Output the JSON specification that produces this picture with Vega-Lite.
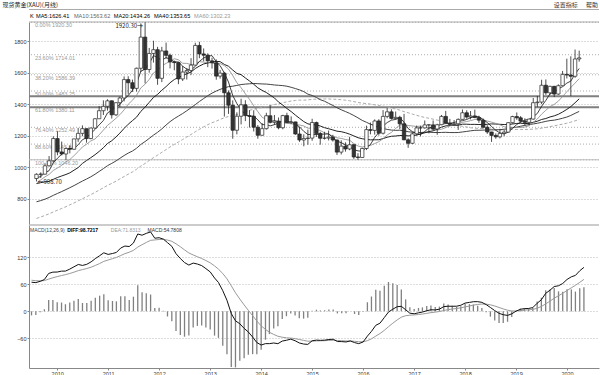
{
"$schema":"https://vega.github.io/schema/vega-lite/v6.json",
"background":"white",
"padding":{"top":0,"left":2,"right":2,"bottom":0},
"config":{"view":{"stroke":null},"axis":{"title":null,"labelFont":"Liberation Sans","labelColor":"#333","labelFontSize":5.5},"text":{"font":"Liberation Sans"}},
"spacing":0,
"datasets":{
"k":[
{"d":"2009-07-01","o":927,"h":960,"l":908.7,"c":954,"m5":931.8,"m10":894.7,"m20":895,"m40":779.1,"m60":673.4,"dif":64.7,"dea":69.2,"macd":-9},
{"d":"2009-08-01","o":954,"h":966,"l":931,"c":955,"m5":939.6,"m10":918.4,"m20":901,"m40":786.7,"m60":682.5,"dif":63.9,"dea":68.1,"macd":-8.4},
{"d":"2009-09-01","o":955,"h":1024,"l":952,"c":1008,"m5":964.6,"m10":937.6,"m20":905.3,"m40":795.8,"m60":692.4,"dif":66.7,"dea":67.8,"macd":-2.2},
{"d":"2009-10-01","o":1008,"h":1070,"l":1003,"c":1040,"m5":976.8,"m10":953.2,"m20":908.7,"m40":806.5,"m60":702.6,"dif":70.7,"dea":68.4,"macd":4.6},
{"d":"2009-11-01","o":1040,"h":1195,"l":1033,"c":1181,"m5":1027.6,"m10":978.5,"m20":921.9,"m40":820.2,"m60":714.8,"dif":84.3,"dea":71.6,"macd":25.4},
{"d":"2009-12-01","o":1181,"h":1227,"l":1075,"c":1096,"m5":1056,"m10":993.9,"m20":933.5,"m40":832,"m60":725.7,"dif":87.2,"dea":74.7,"macd":25},
{"d":"2010-01-01","o":1096,"h":1162,"l":1074,"c":1083,"m5":1081.6,"m10":1010.6,"m20":943.4,"m40":844.1,"m60":736.7,"dif":87.4,"dea":77.2,"macd":20.4},
{"d":"2010-02-01","o":1083,"h":1125,"l":1044,"c":1118,"m5":1103.6,"m10":1034.1,"m20":952.9,"m40":856.9,"m60":748.1,"dif":89.4,"dea":79.6,"macd":19.6},
{"d":"2010-03-01","o":1118,"h":1136,"l":1087,"c":1113,"m5":1118.2,"m10":1047.5,"m20":962.9,"m40":868.6,"m60":759.5,"dif":89.5,"dea":81.6,"macd":15.8},
{"d":"2010-04-01","o":1113,"h":1179,"l":1110,"c":1179,"m5":1117.8,"m10":1072.7,"m20":980.2,"m40":882.3,"m60":771.9,"dif":93.9,"dea":84.1,"macd":19.6},
{"d":"2010-05-01","o":1179,"h":1249,"l":1160,"c":1214,"m5":1141.4,"m10":1098.7,"m20":996.7,"m40":896.4,"m60":785.2,"dif":99,"dea":87.1,"macd":23.8},
{"d":"2010-06-01","o":1214,"h":1265,"l":1196,"c":1244,"m5":1173.6,"m10":1127.6,"m20":1023,"m40":910.9,"m60":798.7,"dif":104.2,"dea":90.5,"macd":27.4},
{"d":"2010-07-01","o":1244,"h":1245,"l":1155,"c":1181,"m5":1186.2,"m10":1144.9,"m20":1041.3,"m40":923.8,"m60":811.2,"dif":102.1,"dea":92.8,"macd":18.6},
{"d":"2010-08-01","o":1181,"h":1250,"l":1177,"c":1248,"m5":1213.2,"m10":1165.7,"m20":1059.5,"m40":938,"m60":824.8,"dif":104.6,"dea":95.2,"macd":18.8},
{"d":"2010-09-01","o":1248,"h":1310,"l":1242,"c":1307,"m5":1238.8,"m10":1178.3,"m20":1078.4,"m40":954.3,"m60":838.7,"dif":110.1,"dea":98.2,"macd":23.8},
{"d":"2010-10-01","o":1307,"h":1387,"l":1306,"c":1358,"m5":1267.6,"m10":1204.5,"m20":1099.2,"m40":972,"m60":853.5,"dif":117.2,"dea":102,"macd":30.4},
{"d":"2010-11-01","o":1358,"h":1424,"l":1331,"c":1386,"m5":1296,"m10":1234.8,"m20":1122.7,"m40":990,"m60":868.3,"dif":123.7,"dea":106.3,"macd":34.8},
{"d":"2010-12-01","o":1386,"h":1431,"l":1359,"c":1421,"m5":1344,"m10":1265.1,"m20":1149.6,"m40":1008.7,"m60":883.4,"dif":130.2,"dea":111.1,"macd":38.2},
{"d":"2011-01-01","o":1421,"h":1424,"l":1308,"c":1332,"m5":1360.8,"m10":1287,"m20":1167.3,"m40":1023.4,"m60":896.1,"dif":126.6,"dea":114.2,"macd":24.8},
{"d":"2011-02-01","o":1332,"h":1411,"l":1324,"c":1409,"m5":1381.2,"m10":1310,"m20":1191.4,"m40":1038.9,"m60":910.3,"dif":128.6,"dea":117.1,"macd":23},
{"d":"2011-03-01","o":1409,"h":1447,"l":1381,"c":1439,"m5":1397.4,"m10":1332.5,"m20":1215.6,"m40":1055.3,"m60":924.6,"dif":131,"dea":119.9,"macd":22.2},
{"d":"2011-04-01","o":1439,"h":1576,"l":1417,"c":1556,"m5":1431.4,"m10":1363.7,"m20":1245.7,"m40":1073.3,"m60":939.7,"dif":140.8,"dea":124.1,"macd":33.4},
{"d":"2011-05-01","o":1556,"h":1577,"l":1462,"c":1536,"m5":1454.4,"m10":1399.2,"m20":1272.1,"m40":1088.7,"m60":954.5,"dif":145.2,"dea":128.3,"macd":33.8},
{"d":"2011-06-01","o":1536,"h":1556,"l":1478,"c":1500,"m5":1488,"m10":1424.4,"m20":1295.1,"m40":1101.9,"m60":969.3,"dif":144.1,"dea":131.5,"macd":25.2},
{"d":"2011-07-01","o":1500,"h":1632,"l":1480,"c":1628,"m5":1531.8,"m10":1456.5,"m20":1317.4,"m40":1119.7,"m60":985.9,"dif":151.9,"dea":135.6,"macd":32.6},
{"d":"2011-08-01","o":1628,"h":1913,"l":1604,"c":1826,"m5":1609.2,"m10":1503.3,"m20":1353.9,"m40":1143.7,"m60":1006,"dif":172,"dea":142.9,"macd":58.2},
{"d":"2011-09-01","o":1826,"h":1920.3,"l":1532,"c":1620,"m5":1622,"m10":1526.7,"m20":1380.8,"m40":1162.1,"m60":1023,"dif":169.3,"dea":148.2,"macd":42.2},
{"d":"2011-10-01","o":1620,"h":1757,"l":1600,"c":1722,"m5":1659.2,"m10":1556.8,"m20":1411,"m40":1181.9,"m60":1041.6,"dif":173.4,"dea":153.2,"macd":40.4},
{"d":"2011-11-01","o":1722,"h":1803,"l":1664,"c":1746,"m5":1708.4,"m10":1598.2,"m20":1442.6,"m40":1202.8,"m60":1059.9,"dif":176.6,"dea":157.9,"macd":37.4},
{"d":"2011-12-01","o":1746,"h":1764,"l":1523,"c":1564,"m5":1695.6,"m10":1613.7,"m20":1461.9,"m40":1221,"m60":1075.5,"dif":162.6,"dea":158.8,"macd":7.6},
{"d":"2012-01-01","o":1564,"h":1764,"l":1540,"c":1738,"m5":1678,"m10":1643.6,"m20":1488.1,"m40":1242.4,"m60":1093.6,"dif":163.7,"dea":159.8,"macd":7.8},
{"d":"2012-02-01","o":1738,"h":1791,"l":1688,"c":1710,"m5":1696,"m10":1659,"m20":1511.4,"m40":1267.2,"m60":1111,"dif":160.5,"dea":159.9,"macd":1.2},
{"d":"2012-03-01","o":1710,"h":1721,"l":1627,"c":1668,"m5":1685.2,"m10":1672.2,"m20":1535.7,"m40":1288.5,"m60":1127.8,"dif":152.8,"dea":158.5,"macd":-11.4},
{"d":"2012-04-01","o":1668,"h":1677,"l":1615,"c":1664,"m5":1668.8,"m10":1688.6,"m20":1556.5,"m40":1308,"m60":1144.2,"dif":144.6,"dea":155.7,"macd":-22.2},
{"d":"2012-05-01","o":1664,"h":1665,"l":1527,"c":1560,"m5":1668,"m10":1681.8,"m20":1569.2,"m40":1323.8,"m60":1159.2,"dif":128.3,"dea":150.2,"macd":-43.8},
{"d":"2012-06-01","o":1560,"h":1642,"l":1547,"c":1604,"m5":1641.2,"m10":1659.6,"m20":1581.5,"m40":1340.3,"m60":1175.1,"dif":117.5,"dea":143.7,"macd":-52.4},
{"d":"2012-07-01","o":1604,"h":1630,"l":1556,"c":1614,"m5":1622,"m10":1659,"m20":1592.9,"m40":1357.8,"m60":1190.9,"dif":108.5,"dea":136.7,"macd":-56.4},
{"d":"2012-08-01","o":1614,"h":1692,"l":1586,"c":1648,"m5":1618,"m10":1651.6,"m20":1604.2,"m40":1376.9,"m60":1207.2,"dif":102.9,"dea":129.9,"macd":-54},
{"d":"2012-09-01","o":1648,"h":1790,"l":1645,"c":1773,"m5":1639.8,"m10":1654.3,"m20":1626.3,"m40":1396.8,"m60":1224.3,"dif":107.3,"dea":125.4,"macd":-36.2},
{"d":"2012-10-01","o":1773,"h":1796,"l":1692,"c":1719,"m5":1671.6,"m10":1669.8,"m20":1641.8,"m40":1416.6,"m60":1239.8,"dif":105.2,"dea":121.4,"macd":-32.4},
{"d":"2012-11-01","o":1719,"h":1754,"l":1672,"c":1711,"m5":1693,"m10":1667.1,"m20":1655.4,"m40":1435.5,"m60":1255.3,"dif":101.7,"dea":117.5,"macd":-31.6},
{"d":"2012-12-01","o":1711,"h":1723,"l":1635,"c":1675,"m5":1705.2,"m10":1663.6,"m20":1661.3,"m40":1453.5,"m60":1269.3,"dif":95,"dea":113,"macd":-36},
{"d":"2013-01-01","o":1675,"h":1695,"l":1626,"c":1663,"m5":1708.2,"m10":1663.1,"m20":1667.7,"m40":1469.9,"m60":1281.7,"dif":87.7,"dea":107.9,"macd":-40.4},
{"d":"2013-02-01","o":1663,"h":1684,"l":1555,"c":1578,"m5":1669.2,"m10":1654.5,"m20":1671.6,"m40":1483.3,"m60":1291.8,"dif":74.2,"dea":101.2,"macd":-54},
{"d":"2013-03-01","o":1578,"h":1617,"l":1562,"c":1597,"m5":1644.8,"m10":1658.2,"m20":1670,"m40":1493.7,"m60":1303.1,"dif":64.3,"dea":93.8,"macd":-59},
{"d":"2013-04-01","o":1597,"h":1605,"l":1321,"c":1472,"m5":1597,"m10":1645,"m20":1652.3,"m40":1503.1,"m60":1313.2,"dif":45.9,"dea":84.2,"macd":-76.6},
{"d":"2013-05-01","o":1472,"h":1487,"l":1338,"c":1393,"m5":1540.6,"m10":1622.9,"m20":1641,"m40":1510.9,"m60":1321.7,"dif":24.6,"dea":72.3,"macd":-95.4},
{"d":"2013-06-01","o":1393,"h":1424,"l":1180,"c":1234,"m5":1454.8,"m10":1581.5,"m20":1616.6,"m40":1513.8,"m60":1326.8,"dif":-5,"dea":56.8,"macd":-123.6},
{"d":"2013-07-01","o":1234,"h":1348,"l":1208,"c":1323,"m5":1403.8,"m10":1536.5,"m20":1595.4,"m40":1519,"m60":1333.6,"dif":-21.1,"dea":41.2,"macd":-124.6},
{"d":"2013-08-01","o":1323,"h":1434,"l":1271,"c":1396,"m5":1363.6,"m10":1504.2,"m20":1587,"m40":1524.4,"m60":1343,"dif":-27.6,"dea":27.4,"macd":-110},
{"d":"2013-09-01","o":1396,"h":1425,"l":1292,"c":1327,"m5":1334.6,"m10":1465.8,"m20":1566.5,"m40":1527.3,"m60":1350.4,"dif":-37.9,"dea":14.3,"macd":-104.4},
{"d":"2013-10-01","o":1327,"h":1362,"l":1251,"c":1323,"m5":1320.6,"m10":1430.6,"m20":1547.1,"m40":1529.2,"m60":1360.5,"dif":-45.9,"dea":2.3,"macd":-96.4},
{"d":"2013-11-01","o":1323,"h":1361,"l":1226,"c":1253,"m5":1324.4,"m10":1389.6,"m20":1526.4,"m40":1531,"m60":1367.8,"dif":-57.2,"dea":-9.6,"macd":-95.2},
{"d":"2013-12-01","o":1253,"h":1267,"l":1180,"c":1202,"m5":1300.2,"m10":1352,"m20":1503.3,"m40":1529.9,"m60":1373.1,"dif":-69.4,"dea":-21.6,"macd":-95.6},
{"d":"2014-01-01","o":1202,"h":1280,"l":1200,"c":1244,"m5":1269.8,"m10":1316.7,"m20":1487.5,"m40":1528.3,"m60":1378.3,"dif":-74.9,"dea":-32.3,"macd":-85.2},
{"d":"2014-02-01","o":1244,"h":1345,"l":1238,"c":1326,"m5":1269.6,"m10":1302.1,"m20":1473.6,"m40":1527.5,"m60":1384.7,"dif":-71.8,"dea":-40.2,"macd":-63.2},
{"d":"2014-03-01","o":1326,"h":1392,"l":1277,"c":1284,"m5":1261.8,"m10":1291.2,"m20":1457.1,"m40":1525,"m60":1390.9,"dif":-71.8,"dea":-46.5,"macd":-50.6},
{"d":"2014-04-01","o":1284,"h":1331,"l":1268,"c":1292,"m5":1269.6,"m10":1297,"m20":1439.3,"m40":1521.7,"m60":1397.7,"dif":-70.4,"dea":-51.3,"macd":-38.2},
{"d":"2014-05-01","o":1292,"h":1315,"l":1240,"c":1250,"m5":1279.2,"m10":1289.7,"m20":1413.1,"m40":1519.7,"m60":1402.2,"dif":-71.9,"dea":-55.4,"macd":-33},
{"d":"2014-06-01","o":1250,"h":1332,"l":1240,"c":1327,"m5":1295.8,"m10":1282.8,"m20":1393.5,"m40":1517.6,"m60":1408.9,"dif":-66.1,"dea":-57.5,"macd":-17.2},
{"d":"2014-07-01","o":1327,"h":1345,"l":1280,"c":1282,"m5":1287,"m10":1278.3,"m20":1372.1,"m40":1513.7,"m60":1414.3,"dif":-64.3,"dea":-58.9,"macd":-10.8},
{"d":"2014-08-01","o":1282,"h":1322,"l":1274,"c":1287,"m5":1287.6,"m10":1274.7,"m20":1352.7,"m40":1507,"m60":1419.9,"dif":-61.8,"dea":-59.5,"macd":-4.6},
{"d":"2014-09-01","o":1287,"h":1288,"l":1205,"c":1210,"m5":1271.2,"m10":1270.4,"m20":1330,"m40":1498.8,"m60":1423.2,"dif":-65.3,"dea":-60.7,"macd":-9.2},
{"d":"2014-10-01","o":1210,"h":1255,"l":1160,"c":1172,"m5":1255.6,"m10":1267.4,"m20":1309.7,"m40":1490.6,"m60":1425.4,"dif":-70.3,"dea":-62.6,"macd":-15.4},
{"d":"2014-11-01","o":1172,"h":1208,"l":1132,"c":1182,"m5":1226.6,"m10":1261.2,"m20":1289,"m40":1479.5,"m60":1425.5,"dif":-72.7,"dea":-64.6,"macd":-16.2},
{"d":"2014-12-01","o":1182,"h":1238,"l":1142,"c":1184,"m5":1207,"m10":1247,"m20":1274.6,"m40":1463.4,"m60":1426.9,"dif":-73.5,"dea":-66.4,"macd":-14.2},
{"d":"2015-01-01","o":1184,"h":1307,"l":1167,"c":1283,"m5":1206.2,"m10":1246.9,"m20":1269.1,"m40":1455,"m60":1430.3,"dif":-65.5,"dea":-66.2,"macd":1.4},
{"d":"2015-02-01","o":1283,"h":1289,"l":1191,"c":1213,"m5":1206.8,"m10":1239,"m20":1268,"m40":1442.3,"m60":1431.8,"dif":-64,"dea":-65.8,"macd":3.6},
{"d":"2015-03-01","o":1213,"h":1224,"l":1142,"c":1183,"m5":1209,"m10":1232.3,"m20":1261,"m40":1428.2,"m60":1433,"dif":-64.5,"dea":-65.5,"macd":2},
{"d":"2015-04-01","o":1183,"h":1224,"l":1175,"c":1184,"m5":1209.4,"m10":1218,"m20":1250.4,"m40":1418.7,"m60":1433.1,"dif":-64.1,"dea":-65.2,"macd":2.2},
{"d":"2015-05-01","o":1184,"h":1232,"l":1169,"c":1190,"m5":1210.6,"m10":1208.8,"m20":1243.6,"m40":1405,"m60":1432.7,"dif":-62.6,"dea":-64.7,"macd":4.2},
{"d":"2015-06-01","o":1190,"h":1205,"l":1162,"c":1172,"m5":1188.4,"m10":1197.3,"m20":1236,"m40":1391.6,"m60":1431.5,"dif":-62.1,"dea":-64.2,"macd":4.2},
{"d":"2015-07-01","o":1172,"h":1176,"l":1077,"c":1095,"m5":1164.8,"m10":1185.8,"m20":1228.1,"m40":1377.2,"m60":1430.1,"dif":-67.1,"dea":-64.8,"macd":-4.6},
{"d":"2015-08-01","o":1095,"h":1170,"l":1080,"c":1133,"m5":1154.8,"m10":1181.9,"m20":1224.7,"m40":1364,"m60":1428.1,"dif":-67.3,"dea":-65.3,"macd":-4},
{"d":"2015-09-01","o":1133,"h":1157,"l":1098,"c":1115,"m5":1141,"m10":1175.2,"m20":1218.2,"m40":1352.8,"m60":1424.9,"dif":-68.1,"dea":-65.9,"macd":-4.4},
{"d":"2015-10-01","o":1115,"h":1192,"l":1107,"c":1142,"m5":1131.4,"m10":1171,"m20":1209,"m40":1341.3,"m60":1421.3,"dif":-65.8,"dea":-65.9,"macd":0.2},
{"d":"2015-11-01","o":1142,"h":1146,"l":1052,"c":1064,"m5":1109.8,"m10":1149.1,"m20":1198,"m40":1327.5,"m60":1416,"dif":-69.5,"dea":-66.6,"macd":-5.8},
{"d":"2015-12-01","o":1064,"h":1088,"l":1046.2,"c":1061,"m5":1103,"m10":1133.9,"m20":1186.5,"m40":1312.9,"m60":1410,"dif":-71.8,"dea":-67.6,"macd":-8.4},
{"d":"2016-01-01","o":1061,"h":1123,"l":1060,"c":1118,"m5":1100,"m10":1127.4,"m20":1179.9,"m40":1296.5,"m60":1406.4,"dif":-68.2,"dea":-67.7,"macd":-1},
{"d":"2016-02-01","o":1118,"h":1263,"l":1108,"c":1238,"m5":1124.6,"m10":1132.8,"m20":1175.4,"m40":1284.5,"m60":1403.6,"dif":-55.1,"dea":-65.2,"macd":20.2},
{"d":"2016-03-01","o":1238,"h":1283,"l":1208,"c":1233,"m5":1142.8,"m10":1137.1,"m20":1173,"m40":1272.5,"m60":1400.1,"dif":-44.6,"dea":-61.1,"macd":33},
{"d":"2016-04-01","o":1233,"h":1303,"l":1206,"c":1293,"m5":1188.6,"m10":1149.2,"m20":1173.3,"m40":1263,"m60":1395.7,"dif":-31.1,"dea":-55.1,"macd":48},
{"d":"2016-05-01","o":1293,"h":1304,"l":1200,"c":1215,"m5":1219.4,"m10":1161.2,"m20":1173.5,"m40":1251.8,"m60":1390.4,"dif":-26.4,"dea":-49.4,"macd":46},
{"d":"2016-06-01","o":1215,"h":1362,"l":1207,"c":1322,"m5":1260.2,"m10":1180.1,"m20":1181,"m40":1245.4,"m60":1387.4,"dif":-13.9,"dea":-42.3,"macd":56.8},
{"d":"2016-07-01","o":1322,"h":1375,"l":1310,"c":1351,"m5":1282.8,"m10":1203.7,"m20":1189.5,"m40":1239.2,"m60":1382.8,"dif":-1.6,"dea":-34.2,"macd":65.2},
{"d":"2016-08-01","o":1351,"h":1367,"l":1302,"c":1309,"m5":1298,"m10":1220.4,"m20":1195.7,"m40":1235.1,"m60":1374.2,"dif":4.8,"dea":-26.4,"macd":62.4},
{"d":"2016-09-01","o":1309,"h":1353,"l":1302,"c":1316,"m5":1302.6,"m10":1245.6,"m20":1197.4,"m40":1233.2,"m60":1369.1,"dif":10.3,"dea":-19.1,"macd":58.8},
{"d":"2016-10-01","o":1316,"h":1326,"l":1241,"c":1275,"m5":1314.6,"m10":1267,"m20":1200.5,"m40":1234.2,"m60":1361.7,"dif":11.2,"dea":-13,"macd":48.4},
{"d":"2016-11-01","o":1275,"h":1338,"l":1171,"c":1173,"m5":1284.8,"m10":1272.5,"m20":1200,"m40":1230.5,"m60":1352.1,"dif":3.6,"dea":-9.7,"macd":26.6},
{"d":"2016-12-01","o":1173,"h":1183,"l":1122,"c":1151,"m5":1244.8,"m10":1263.8,"m20":1198.3,"m40":1224.4,"m60":1345.2,"dif":-4.1,"dea":-8.6,"macd":9},
{"d":"2017-01-01","o":1151,"h":1220,"l":1146,"c":1211,"m5":1225.2,"m10":1261.6,"m20":1199.4,"m40":1221.5,"m60":1336.5,"dif":-5.4,"dea":-8,"macd":5.2},
{"d":"2017-02-01","o":1211,"h":1264,"l":1200,"c":1249,"m5":1211.8,"m10":1257.2,"m20":1203.2,"m40":1219.6,"m60":1328.8,"dif":-3.3,"dea":-7.1,"macd":7.6},
{"d":"2017-03-01","o":1249,"h":1262,"l":1195,"c":1249,"m5":1206.6,"m10":1260.6,"m20":1210.9,"m40":1219.5,"m60":1321.8,"dif":-1.6,"dea":-6,"macd":8.8},
{"d":"2017-04-01","o":1249,"h":1296,"l":1244,"c":1268,"m5":1225.6,"m10":1255.2,"m20":1217.7,"m40":1221.2,"m60":1315.2,"dif":1.3,"dea":-4.5,"macd":11.6},
{"d":"2017-05-01","o":1268,"h":1270,"l":1214,"c":1268,"m5":1249,"m10":1246.9,"m20":1225.3,"m40":1221.8,"m60":1310.3,"dif":3.5,"dea":-2.9,"macd":12.8},
{"d":"2017-06-01","o":1268,"h":1296,"l":1236,"c":1242,"m5":1255.2,"m10":1240.2,"m20":1230.3,"m40":1219.7,"m60":1304.3,"dif":3.1,"dea":-1.7,"macd":9.6},
{"d":"2017-07-01","o":1242,"h":1275,"l":1205,"c":1269,"m5":1259.2,"m10":1235.5,"m20":1240.6,"m40":1219.3,"m60":1298.5,"dif":4.9,"dea":-0.4,"macd":10.6},
{"d":"2017-08-01","o":1269,"h":1331,"l":1266,"c":1322,"m5":1273.8,"m10":1240.2,"m20":1253.6,"m40":1220,"m60":1293.1,"dif":10.5,"dea":1.8,"macd":17.4},
{"d":"2017-09-01","o":1322,"h":1357,"l":1278,"c":1280,"m5":1276.2,"m10":1250.9,"m20":1261.7,"m40":1220.8,"m60":1284.9,"dif":11.4,"dea":3.7,"macd":15.4},
{"d":"2017-10-01","o":1280,"h":1306,"l":1260,"c":1271,"m5":1276.8,"m10":1262.9,"m20":1263.4,"m40":1219.4,"m60":1277.4,"dif":11.3,"dea":5.2,"macd":12.2},
{"d":"2017-11-01","o":1271,"h":1299,"l":1264,"c":1275,"m5":1283.4,"m10":1269.3,"m20":1265.5,"m40":1219.2,"m60":1270.2,"dif":11.4,"dea":6.4,"macd":10},
{"d":"2017-12-01","o":1275,"h":1309,"l":1236,"c":1303,"m5":1290.2,"m10":1274.7,"m20":1266,"m40":1219.6,"m60":1264,"dif":13.5,"dea":7.8,"macd":11.4},
{"d":"2018-01-01","o":1303,"h":1366,"l":1302,"c":1345,"m5":1294.8,"m10":1284.3,"m20":1272.5,"m40":1223,"m60":1258.7,"dif":18.4,"dea":9.9,"macd":17},
{"d":"2018-02-01","o":1345,"h":1361,"l":1307,"c":1318,"m5":1302.4,"m10":1289.3,"m20":1272.3,"m40":1226.6,"m60":1254.3,"dif":19.9,"dea":11.9,"macd":16},
{"d":"2018-03-01","o":1318,"h":1356,"l":1303,"c":1325,"m5":1313.2,"m10":1295,"m20":1271,"m40":1230.2,"m60":1249.8,"dif":21.4,"dea":13.8,"macd":15.2},
{"d":"2018-04-01","o":1325,"h":1365,"l":1310,"c":1315,"m5":1321.2,"m10":1302.3,"m20":1271.3,"m40":1233.5,"m60":1247.2,"dif":21.5,"dea":15.3,"macd":12.4},
{"d":"2018-05-01","o":1315,"h":1326,"l":1281,"c":1298,"m5":1320.2,"m10":1305.2,"m20":1270.4,"m40":1233.9,"m60":1245.6,"dif":20,"dea":16.2,"macd":7.6},
{"d":"2018-06-01","o":1298,"h":1309,"l":1245,"c":1253,"m5":1301.8,"m10":1298.3,"m20":1269.3,"m40":1234.9,"m60":1245.9,"dif":15,"dea":16,"macd":-2},
{"d":"2018-07-01","o":1253,"h":1266,"l":1211,"c":1223,"m5":1282.8,"m10":1292.6,"m20":1271.8,"m40":1235.9,"m60":1244.2,"dif":8.6,"dea":14.5,"macd":-11.8},
{"d":"2018-08-01","o":1223,"h":1224,"l":1160,"c":1201,"m5":1258,"m10":1285.6,"m20":1274.3,"m40":1236.3,"m60":1241,"dif":1.7,"dea":11.9,"macd":-20.4},
{"d":"2018-09-01","o":1201,"h":1214,"l":1180,"c":1192,"m5":1233.4,"m10":1277.3,"m20":1273.3,"m40":1236.3,"m60":1238.7,"dif":-4.4,"dea":8.6,"macd":-26},
{"d":"2018-10-01","o":1192,"h":1243,"l":1182,"c":1214,"m5":1216.6,"m10":1268.4,"m20":1271.6,"m40":1237.4,"m60":1236.9,"dif":-7.5,"dea":5.4,"macd":-25.8},
{"d":"2018-11-01","o":1214,"h":1237,"l":1196,"c":1222,"m5":1210.4,"m10":1256.1,"m20":1270.2,"m40":1240.6,"m60":1236.4,"dif":-9.1,"dea":2.5,"macd":-23.2},
{"d":"2018-12-01","o":1222,"h":1284,"l":1221,"c":1282,"m5":1222.2,"m10":1252.5,"m20":1270.9,"m40":1244.3,"m60":1237.7,"dif":-5.5,"dea":0.9,"macd":-12.8},
{"d":"2019-01-01","o":1282,"h":1326,"l":1276,"c":1321,"m5":1246.2,"m10":1252.1,"m20":1273.6,"m40":1249.4,"m60":1239,"dif":0.5,"dea":0.8,"macd":-0.6},
{"d":"2019-02-01","o":1321,"h":1347,"l":1300,"c":1313,"m5":1270.4,"m10":1251.9,"m20":1277.1,"m40":1253.7,"m60":1238.8,"dif":4.6,"dea":1.6,"macd":6},
{"d":"2019-03-01","o":1313,"h":1324,"l":1281,"c":1292,"m5":1286,"m10":1251.3,"m20":1278.3,"m40":1259.4,"m60":1238.9,"dif":6,"dea":2.5,"macd":7},
{"d":"2019-04-01","o":1292,"h":1310,"l":1266,"c":1284,"m5":1298.4,"m10":1254.4,"m20":1276.4,"m40":1265,"m60":1238.8,"dif":6.4,"dea":3.3,"macd":6.2},
{"d":"2019-05-01","o":1284,"h":1306,"l":1266,"c":1305,"m5":1303,"m10":1262.6,"m20":1277.6,"m40":1269.7,"m60":1239.7,"dif":8.3,"dea":4.3,"macd":8},
{"d":"2019-06-01","o":1305,"h":1439,"l":1301,"c":1409,"m5":1320.6,"m10":1283.4,"m20":1284.5,"m40":1273.9,"m60":1241.1,"dif":18,"dea":7,"macd":22},
{"d":"2019-07-01","o":1409,"h":1452,"l":1382,"c":1413,"m5":1340.6,"m10":1305.5,"m20":1291.4,"m40":1278.4,"m60":1243.3,"dif":25.7,"dea":10.7,"macd":30},
{"d":"2019-08-01","o":1413,"h":1555,"l":1400,"c":1520,"m5":1386.2,"m10":1336.1,"m20":1302.3,"m40":1284.1,"m60":1247.2,"dif":40,"dea":16.6,"macd":46.8},
{"d":"2019-09-01","o":1520,"h":1557,"l":1459,"c":1472,"m5":1423.8,"m10":1361.1,"m20":1308.6,"m40":1290.5,"m60":1251.5,"dif":47,"dea":22.7,"macd":48.6},
{"d":"2019-10-01","o":1472,"h":1517,"l":1459,"c":1513,"m5":1465.4,"m10":1384.2,"m20":1318.4,"m40":1295.3,"m60":1257.2,"dif":55.1,"dea":29.2,"macd":51.8},
{"d":"2019-11-01","o":1513,"h":1516,"l":1445,"c":1464,"m5":1476.4,"m10":1398.5,"m20":1325.3,"m40":1298.1,"m60":1261.9,"dif":56.9,"dea":34.7,"macd":44.4},
{"d":"2019-12-01","o":1464,"h":1526,"l":1459,"c":1517,"m5":1497.2,"m10":1418.9,"m20":1335.4,"m40":1303.3,"m60":1267.5,"dif":61.9,"dea":40.1,"macd":43.6},
{"d":"2020-01-01","o":1517,"h":1611,"l":1517,"c":1589,"m5":1511,"m10":1448.6,"m20":1350,"m40":1310.2,"m60":1272.6,"dif":70.9,"dea":46.3,"macd":49.2},
{"d":"2020-02-01","o":1589,"h":1689,"l":1563,"c":1585,"m5":1533.6,"m10":1478.7,"m20":1366.6,"m40":1317.9,"m60":1278.8,"dif":76.8,"dea":52.4,"macd":48.8},
{"d":"2020-03-01","o":1585,"h":1704,"l":1451,"c":1577,"m5":1546.4,"m10":1505.9,"m20":1384.3,"m40":1328,"m60":1285.3,"dif":79.9,"dea":57.9,"macd":44},
{"d":"2020-04-01","o":1577,"h":1747,"l":1567,"c":1687,"m5":1591,"m10":1533.7,"m20":1408.6,"m40":1341.4,"m60":1293.7,"dif":90.2,"dea":64.4,"macd":51.6},
{"d":"2020-05-01","o":1687,"h":1740,"l":1670,"c":1694,"m5":1626.4,"m10":1561.8,"m20":1433.7,"m40":1353.5,"m60":1302.1,"dif":97.8,"dea":71.1,"macd":53.4}
],
"fib":[
{"lab":"0.00%  1920.30","v":1920.3},
{"lab":"23.60%  1714.01","v":1714.01},
{"lab":"38.20%  1586.39","v":1586.39},
{"lab":"50.00%  1483.25","v":1483.25},
{"lab":"61.80%  1380.11","v":1380.11},
{"lab":"76.40%  1252.49","v":1252.49},
{"lab":"88.60%  1145.84","v":1145.84},
{"lab":"100.00%  1046.20","v":1046.2}
]
},
"vconcat":[
{
"width":570,"height":21,
"data":{"values":[{}]},
"layer":[
{"mark":{"type":"rule","color":"#aaaaaa","strokeWidth":1},"encoding":{"y":{"datum":9.5,"type":"quantitative","scale":{"domain":[0,21],"reverse":true,"nice":false,"zero":false},"axis":{"labels":false,"ticks":false,"domain":false,"grid":false,"minExtent":26,"maxExtent":26}}}},
{"mark":{"type":"text","align":"left","baseline":"middle","fontSize":6,"font":"Noto Sans CJK SC","color":"#222222","text":"现货黄金(XAU)(月线)"},"encoding":{"x":{"datum":{"year":2008,"month":12,"date":5,"utc":true},"type":"temporal","scale":{"type":"utc","domain":[{"year":2009,"month":6,"date":13,"utc":true},{"year":2020,"month":8,"date":17,"utc":true}]},"axis":null},"y":{"datum":4.5,"type":"quantitative"}}},
{"mark":{"type":"text","align":"left","baseline":"middle","fontSize":6,"font":"Noto Sans CJK SC","color":"#333333","text":"设置指标"},"encoding":{"x":{"datum":{"year":2019,"month":9,"date":28,"utc":true},"type":"temporal","axis":null},"y":{"datum":4.5,"type":"quantitative"}}},
{"mark":{"type":"text","align":"left","baseline":"middle","fontSize":6,"font":"Noto Sans CJK SC","color":"#333333","text":"帮助"},"encoding":{"x":{"datum":{"year":2020,"month":5,"date":16,"utc":true},"type":"temporal","axis":null},"y":{"datum":4.5,"type":"quantitative"}}},
{"mark":{"type":"text","align":"left","baseline":"middle","fontSize":5.6,"color":"#000000","text":"K"},"encoding":{"x":{"datum":{"year":2009,"month":6,"date":20,"utc":true},"type":"temporal","axis":null},"y":{"datum":15.5,"type":"quantitative"}}},
{"mark":{"type":"text","align":"left","baseline":"middle","fontSize":5.6,"color":"#000000","text":"MA5:1626.41"},"encoding":{"x":{"datum":{"year":2009,"month":8,"date":2,"utc":true},"type":"temporal","axis":null},"y":{"datum":15.5,"type":"quantitative"}}},
{"mark":{"type":"text","align":"left","baseline":"middle","fontSize":5.6,"color":"#666666","text":"MA10:1563.62"},"encoding":{"x":{"datum":{"year":2010,"month":5,"date":1,"utc":true},"type":"temporal","axis":null},"y":{"datum":15.5,"type":"quantitative"}}},
{"mark":{"type":"text","align":"left","baseline":"middle","fontSize":5.6,"color":"#000000","text":"MA20:1434.26"},"encoding":{"x":{"datum":{"year":2011,"month":2,"date":10,"utc":true},"type":"temporal","axis":null},"y":{"datum":15.5,"type":"quantitative"}}},
{"mark":{"type":"text","align":"left","baseline":"middle","fontSize":5.6,"color":"#000000","text":"MA40:1353.65"},"encoding":{"x":{"datum":{"year":2011,"month":11,"date":25,"utc":true},"type":"temporal","axis":null},"y":{"datum":15.5,"type":"quantitative"}}},
{"mark":{"type":"text","align":"left","baseline":"middle","fontSize":5.6,"color":"#999999","text":"MA60:1302.23"},"encoding":{"x":{"datum":{"year":2012,"month":9,"date":7,"utc":true},"type":"temporal","axis":null},"y":{"datum":15.5,"type":"quantitative"}}}
]
},
{
"width":570,"height":202,
"data":{"name":"k"},
"layer":[
{"data":{"name":"fib"},"mark":{"type":"rule","strokeDash":[1,2],"color":"#999999","strokeWidth":0.8},"encoding":{"y":{"field":"v","type":"quantitative","scale":{"domain":[638,1922],"nice":false,"zero":false},"axis":{"values":[800,1000,1200,1400,1600,1800],"format":"d","grid":true,"gridDash":[1,2],"gridColor":"#bbbbbb","minExtent":26,"maxExtent":26,"domainColor":"#888888","tickColor":"#888888","tickSize":2,"labelPadding":1}}}},
{"data":{"values":[{}]},"mark":{"type":"rule","color":"#bbbbbb","strokeWidth":1},"encoding":{"y":{"datum":1046.2,"type":"quantitative"}}},
{"data":{"values":[{}]},"mark":{"type":"rule","color":"#808080","strokeWidth":2},"encoding":{"y":{"datum":1450,"type":"quantitative"}}},
{"data":{"values":[{}]},"mark":{"type":"rule","color":"#808080","strokeWidth":2},"encoding":{"y":{"datum":1380.11,"type":"quantitative"}}},
{"data":{"values":[{}]},"mark":{"type":"rule","color":"#aaaaaa","strokeWidth":1},"encoding":{"y":{"datum":1922,"type":"quantitative"}}},
{"data":{"name":"fib"},"mark":{"type":"text","align":"left","baseline":"top","dy":1,"fontSize":5.5,"color":"#999999"},"encoding":{"x":{"datum":{"year":2009,"month":6,"date":20,"utc":true},"type":"temporal","scale":{"type":"utc","domain":[{"year":2009,"month":6,"date":13,"utc":true},{"year":2020,"month":8,"date":17,"utc":true}]},"axis":null},"y":{"field":"v","type":"quantitative"},"text":{"field":"lab"}}},
{"mark":{"type":"line","color":"#aaaaaa","strokeWidth":1,"strokeDash":[3,2]},"encoding":{"x":{"field":"d","type":"temporal","axis":null},"y":{"field":"m60","type":"quantitative"}}},
{"mark":{"type":"line","color":"#444444","strokeWidth":1},"encoding":{"x":{"field":"d","type":"temporal","axis":null},"y":{"field":"m40","type":"quantitative"}}},
{"mark":{"type":"line","color":"#222222","strokeWidth":1},"encoding":{"x":{"field":"d","type":"temporal","axis":null},"y":{"field":"m20","type":"quantitative"}}},
{"mark":{"type":"line","color":"#888888","strokeWidth":0.8},"encoding":{"x":{"field":"d","type":"temporal","axis":null},"y":{"field":"m10","type":"quantitative"}}},
{"mark":{"type":"line","color":"#111111","strokeWidth":0.8},"encoding":{"x":{"field":"d","type":"temporal","axis":null},"y":{"field":"m5","type":"quantitative"}}},
{"mark":{"type":"rule","color":"#222222","strokeWidth":0.8},"encoding":{"x":{"field":"d","type":"temporal","axis":null},"y":{"field":"l","type":"quantitative"},"y2":{"field":"h"}}},
{"mark":{"type":"bar","size":3.4,"stroke":"#222222","strokeWidth":0.7},"encoding":{"x":{"field":"d","type":"temporal","axis":null},"y":{"field":"o","type":"quantitative"},"y2":{"field":"c"},"fill":{"condition":{"test":"datum.c >= datum.o","value":"#ffffff"},"value":"#333333"}}},
{"data":{"values":[{}]},"mark":{"type":"text","align":"right","baseline":"top","dx":-2,"dy":1,"fontSize":6,"font":"Noto Sans CJK SC","color":"#222222","text":"1920.30→"},"encoding":{"x":{"datum":{"year":2011,"month":9,"date":1,"utc":true},"type":"temporal","axis":null},"y":{"datum":1920.3,"type":"quantitative"}}},
{"data":{"values":[{}]},"mark":{"type":"text","align":"left","baseline":"middle","dx":1,"fontSize":6,"font":"Noto Sans CJK SC","color":"#222222","text":"←908.70"},"encoding":{"x":{"datum":{"year":2009,"month":7,"date":1,"utc":true},"type":"temporal","axis":null},"y":{"datum":905,"type":"quantitative"}}}
]
},
{
"width":570,"height":143,
"data":{"name":"k"},
"layer":[
{"data":{"values":[{}]},"mark":{"type":"rule","color":"#999999","strokeWidth":1},"encoding":{"y":{"datum":192,"type":"quantitative","scale":{"domain":[-126,192],"nice":false,"zero":false},"axis":{"values":[-60,0,60,120],"grid":true,"gridDash":[1,2],"gridColor":"#bbbbbb","minExtent":26,"maxExtent":26,"domainColor":"#888888","tickColor":"#888888","tickSize":2,"labelPadding":1}}}},
{"mark":{"type":"rule","color":"#808080","strokeWidth":1.3},"encoding":{"x":{"field":"d","type":"temporal","scale":{"type":"utc","domain":[{"year":2009,"month":6,"date":13,"utc":true},{"year":2020,"month":8,"date":17,"utc":true}]},"axis":{"values":[{"year":2010,"month":1,"date":1,"utc":true},{"year":2010,"month":7,"date":1,"utc":true},{"year":2011,"month":1,"date":1,"utc":true},{"year":2011,"month":7,"date":1,"utc":true},{"year":2012,"month":1,"date":1,"utc":true},{"year":2012,"month":7,"date":1,"utc":true},{"year":2013,"month":1,"date":1,"utc":true},{"year":2013,"month":7,"date":1,"utc":true},{"year":2014,"month":1,"date":1,"utc":true},{"year":2014,"month":7,"date":1,"utc":true},{"year":2015,"month":1,"date":1,"utc":true},{"year":2015,"month":7,"date":1,"utc":true},{"year":2016,"month":1,"date":1,"utc":true},{"year":2016,"month":7,"date":1,"utc":true},{"year":2017,"month":1,"date":1,"utc":true},{"year":2017,"month":7,"date":1,"utc":true},{"year":2018,"month":1,"date":1,"utc":true},{"year":2018,"month":7,"date":1,"utc":true},{"year":2019,"month":1,"date":1,"utc":true},{"year":2019,"month":7,"date":1,"utc":true},{"year":2020,"month":1,"date":1,"utc":true}],"labelExpr":"utcFormat(datum.value, '%m') == '01' ? utcFormat(datum.value, '%Y') : utcFormat(datum.value, '%m')","labelOverlap":false,"grid":false,"domainColor":"#888888","tickColor":"#888888","tickSize":2,"labelPadding":1}},"y":{"field":"macd","type":"quantitative"},"y2":{"datum":0}}},
{"mark":{"type":"line","color":"#999999","strokeWidth":1},"encoding":{"x":{"field":"d","type":"temporal"},"y":{"field":"dea","type":"quantitative"}}},
{"mark":{"type":"line","color":"#111111","strokeWidth":1},"encoding":{"x":{"field":"d","type":"temporal"},"y":{"field":"dif","type":"quantitative"}}},
{"data":{"values":[{}]},"mark":{"type":"text","align":"left","baseline":"top","fontSize":5,"color":"#444444","text":"MACD(12,26,9)"},"encoding":{"x":{"datum":{"year":2009,"month":6,"date":20,"utc":true},"type":"temporal"},"y":{"datum":186,"type":"quantitative"}}},
{"data":{"values":[{}]},"mark":{"type":"text","align":"left","baseline":"top","fontSize":5,"fontWeight":"bold","color":"#000000","text":"DIFF:98.7217"},"encoding":{"x":{"datum":{"year":2010,"month":3,"date":14,"utc":true},"type":"temporal"},"y":{"datum":186,"type":"quantitative"}}},
{"data":{"values":[{}]},"mark":{"type":"text","align":"left","baseline":"top","fontSize":5,"color":"#999999","text":"DEA:71.8313"},"encoding":{"x":{"datum":{"year":2011,"month":1,"date":20,"utc":true},"type":"temporal"},"y":{"datum":186,"type":"quantitative"}}},
{"data":{"values":[{}]},"mark":{"type":"text","align":"left","baseline":"top","fontSize":5,"color":"#333333","text":"MACD:54.7808"},"encoding":{"x":{"datum":{"year":2011,"month":10,"date":10,"utc":true},"type":"temporal"},"y":{"datum":186,"type":"quantitative"}}}
]
}
]
}
